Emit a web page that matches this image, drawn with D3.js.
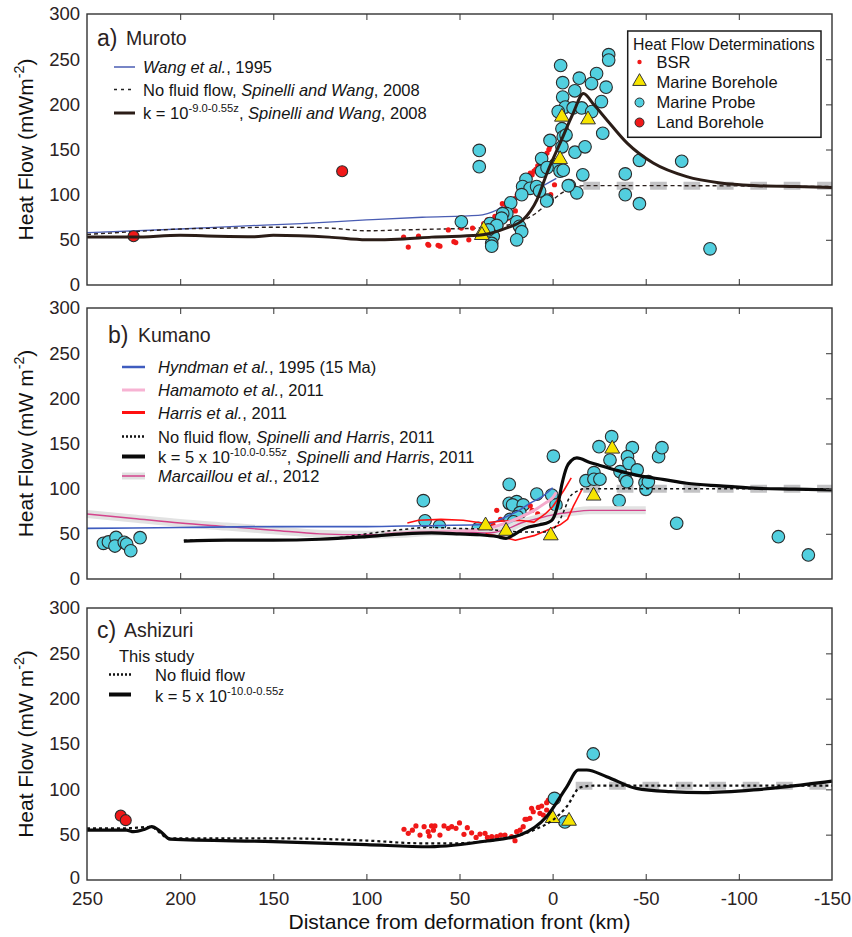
<!DOCTYPE html>
<html>
<head>
<meta charset="utf-8">
<script src="https://cdn.jsdelivr.net/npm/d3@7"></script>
<style>
body{margin:0;background:#fff;}
svg{font-family:"Liberation Sans",Arial,Helvetica,sans-serif;}
</style>
</head>
<body>
<script>

//Data: [distance km, heat flow mW/m2]

// a) Muroto
var murotoWang = [[250,58],[200,62],[170,65],[135,68],[100,72],[70,75],[40,77],[35,79],[30,83],[25,90],[18,96],[12,102],[5,110],[-2,118]];
var murotoNoFlow = [[250,56],[225,59],[200,62],[175,63],[150,64],[120,63],[100,60],[80,61],[60,62],[40,63],[25,66],[18,70],[10,78],[5,86],[0,94],[-5,102],[-10,107],[-17,110],[-50,110],[-150,109]];
var murotoK = [[250,53],[225,53],[200,55],[180,54],[160,53.5],[150,55],[120,53],[100,50],[80,51],[65,53],[40,55],[25,63],[16,72],[8.5,94],[3,124],[-4,157],[-11,190],[-16.5,212],[-22,200],[-29,183],[-40,157],[-54,135],[-72,120],[-90,113],[-110,110],[-130,109],[-150,108]];
var murotoRef = 110;
var murotoBSR = [[80,53],[77.5,42],[72,54],[67,45],[66.5,44],[61.5,44],[60.5,43],[56,61],[53,48],[52,47],[49,63],[43,63],[37,68],[35,72],[33,70],[31,76],[29,80],[27,90],[25,86],[23,88],[22,92],[20,96],[19,100],[17,98],[16,104],[15,112],[14,120],[13,118],[12,124],[11,122],[10,126],[9,128],[8,132],[7,136],[6,130],[5,138],[4,142],[3,146],[2,150],[1.5,153],[0.5,158],[0,164],[-1,111],[1,100],[20,82],[24,74],[28,70],[32,64],[36,58],[40,54],[45,50]];
var murotoProbe = [[39.4,149],[39.4,131],[49,70],[-4.3,243],[-5.4,224],[-14.3,229],[-23.6,234],[-20.9,223],[-28.7,219],[-26.2,203],[-26.9,168],[-30.1,255],[-30.1,249],[-11.9,215],[-5.4,208],[-6.8,197],[-3,192],[-11,196],[-15.6,196],[-21,192],[-5,173],[-5.7,164],[-7.2,166],[1.4,160],[-5,153],[-12,147],[-17.4,153],[5.9,140],[-1.3,133],[-4,126],[-5.7,127],[-16.2,122],[-9,110],[-13,102],[-39,123],[-39,100],[-46.6,90],[-46.6,138],[-69.3,137],[-84.5,40],[5.9,126],[14.3,117],[16.1,109],[12.1,107],[8.6,109],[16.6,100],[2.9,94],[22.5,91],[24.6,79],[26.8,79],[27.4,74],[19.3,70],[17.8,65],[16.6,59],[19.3,50],[33.6,68],[30,66],[31.9,54],[32.7,46],[32.7,43],[34.5,61],[3.2,93],[-8.4,110],[3,130],[7,104]];
var murotoBorehole = [[-5,185],[-19,182],[-4,138],[37,60],[38,54]];
var murotoLand = [[225,54],[113,126]];

// b) Kumano
var kumanoHyndman = [[250,56],[200,57],[150,58],[100,58],[70,59],[40,60],[30,64],[25,69],[18,76],[12,84],[5,92],[0,101]];
var kumanoHamamoto = [[90,50],[70,52],[50,53],[35,56],[25,62],[18,68],[10,76],[4,84],[0,90],[-2,96]];
var kumanoHarrisUpper = [[78,62],[72,65],[60,66],[48,65],[38,62],[28,64],[18,65],[10,63],[4,72],[0,80],[-6,98],[-10,112]];
var kumanoHarrisLower = [[36,50],[28,47],[20,43],[10,48],[3,54],[-4,60],[-8,66],[-11,80],[-13,88],[-16,100]];
var kumanoNoFlow = [[198,43],[175,43],[150,43],[125,44],[118,45],[100,50],[80,55],[66,57],[50,56],[35,55],[25,53],[15,52],[5,52],[0,55],[-3,62],[-6,75],[-9,90],[-13,97],[-17,100],[-50,100],[-150,100]];
var kumanoK = [[198,42],[175,43],[150,43],[125,44],[100,47],[80,50],[65,51],[50,50],[39,49],[30,47],[25,45],[20,50],[15,56],[7,60],[2,63],[0,66],[-3,84],[-5,105],[-7.6,124],[-10,131],[-13,134],[-20,129],[-25,126],[-35,120],[-45,115],[-60,110],[-72,106],[-90,103],[-108,100.5],[-130,99.5],[-150,98.5]];
var kumanoMarcaillou = [[250,72],[225,67],[200,62],[175,58],[150,54],[125,50],[100,49],[80,50],[65,52],[50,52],[35,51],[25,55],[17,62],[8,67],[0,71],[-10,74],[-20,76],[-50,76]];
var kumanoRef = 100;
var kumanoBSR = [[30,76],[28,66],[12,81],[11,76],[32,60],[8,72]];
var kumanoProbe = [[241.2,39.5],[238.5,41],[234.4,46],[235,36.5],[230,40.6],[228.7,38.7],[226.5,31.3],[221.5,45.7],[69.4,86.7],[68.5,64.5],[60.8,58.7],[39.9,56],[23.3,104.8],[23.3,83.8],[19.3,85.6],[21.5,82],[15.8,82],[17.6,73.4],[22.9,66],[19,69],[21,63.4],[8.5,94],[0.5,93],[-0.4,136],[-1.8,82],[-17.9,108.8],[-22.2,117.7],[-22.2,110.4],[-25.4,110.4],[-24.9,146.5],[-31.7,157.6],[-30.8,131.7],[-36.2,118.8],[-38.9,111.5],[-39.8,107.7],[-42.8,145.4],[-40.2,135.4],[-41,128],[-45.4,120.7],[-49.6,106.6],[-50.1,99.3],[-51.4,107.7],[-35.7,86.7],[-56.9,135.4],[-58.7,145.4],[-66.6,61.7],[-121.2,46.8],[-137.3,26.6]];
var kumanoBorehole = [[36,58],[25,52],[1,47],[-22,91],[-32,143]];

// c) Ashizuri
var ashizuriNoFlow = [[250,57],[230,57],[216,58.5],[206,46],[180,46],[150,46],[100,43.5],[71,40.5],[53,40.5],[35,43],[17.5,49.6],[8,57],[0,66],[-7.6,81],[-14.7,102],[-21.8,104],[-150,104]];
var ashizuriK = [[250,55],[228.8,55],[225,53.3],[219,56],[215.3,58.8],[210.8,54],[205.4,45],[150,42.3],[100,39],[66,36.7],[35.4,43],[17.5,49.6],[3.2,70],[-7.6,102.8],[-13.8,121.3],[-18.3,121.3],[-29,114],[-45,101],[-63,97.4],[-81,96.3],[-108,99.3],[-126,103],[-150,109]];
var ashizuriRef = 104;
var ashizuriBSR = [[79.8,56],[77.5,51.5],[75.3,55],[73.4,59.6],[71.2,49.6],[69,58.8],[66.8,53.3],[65,59.6],[63.2,59.6],[66.2,48.5],[64,55],[60.5,49.6],[58.3,59.6],[56,57],[54.2,58.8],[51.9,57],[50,63],[47.6,50.4],[45.8,57.7],[43.5,52],[41.1,47],[39,50.7],[36.3,51.5],[35,47],[32.7,47.8],[30,47.8],[27.9,49.6],[25.6,49.6],[22,47.8],[20.2,43.4],[19.3,53.3],[17.5,55],[15.8,58.8],[14.8,67],[14,67],[12.2,68],[11.3,79],[10.4,75.3],[7.7,80],[5.9,81.6],[6.8,73.5],[5,71.7],[3.2,77.2],[3.2,85.3],[2.3,88.2]];
var ashizuriProbe = [[-21.8,139],[-1,90],[-6.6,64]];
var ashizuriBorehole = [[0,67],[-8.8,64]];
var ashizuriLand = [[231.9,71],[229.2,66]];

var yTicks = [0,50,100,150,200,250,300];
var xTicks = [250,200,150,100,50,0,-50,-100,-150];

//Colors
var PROBE = "#52cfdf", TRI = "#f6e400", RED = "#f01818", TXT = "#2a2222";
var LEG = 16.5;

var svg = d3.select("body").append("svg").attr("width",852).attr("height",937);

var x = d3.scaleLinear().domain([250,-150]).range([87,832]);

function makeY(top,bottom){
  return d3.scaleLinear().domain([0,300]).range([bottom,top]);
}

function drawLine(g,y,data,stroke,width,dash,curve){
  var line = d3.line().x(function(d){return x(d[0]);}).y(function(d){return y(d[1]);})
    .curve(curve || d3.curveMonotoneX);
  var p = g.append("path").datum(data).attr("d",line).attr("fill","none")
    .attr("stroke",stroke).attr("stroke-width",width)
    .attr("stroke-linejoin","round").attr("stroke-linecap","butt");
  if(dash) p.attr("stroke-dasharray",dash);
  return p;
}

function drawRef(g,y,val,startX){
  g.append("line").attr("x1",startX).attr("x2",x(-150))
    .attr("y1",y(val)).attr("y2",y(val))
    .attr("stroke","#c3c3c5").attr("stroke-width",8).attr("stroke-dasharray","16.7,16.7");
}

function drawBSR(g,y,data){
  g.selectAll(null).data(data).enter().append("circle")
    .attr("cx",function(d){return x(d[0]);}).attr("cy",function(d){return y(d[1]);})
    .attr("r",2.6).attr("fill",RED);
}

function drawCircles(g,y,data,fill,r){
  g.selectAll(null).data(data).enter().append("circle")
    .attr("cx",function(d){return x(d[0]);}).attr("cy",function(d){return y(d[1]);})
    .attr("r",r).attr("fill",fill).attr("stroke","#2b2b2b").attr("stroke-width",1.1);
}

var tri = d3.symbol().type(d3.symbolTriangle).size(95);
function drawTriangles(g,y,data){
  g.selectAll(null).data(data).enter().append("path")
    .attr("d",tri)
    .attr("transform",function(d){return "translate("+x(d[0])+","+(y(d[1])-1)+")";})
    .attr("fill",TRI).attr("stroke","#333").attr("stroke-width",1);
}

function richText(g,px,py,parts,size,color){
  var t = g.append("text").attr("x",px).attr("y",py).attr("font-size",size)
    .attr("fill",color || "#151515");
  var raised = false;
  parts.forEach(function(p){
    var s = t.append("tspan").text(p.t);
    if(p.i) s.attr("font-style","italic");
    if(p.sup){ s.attr("font-size",size*0.68).attr("dy",-size*0.42); raised = true; }
    else if(raised){ s.attr("dy",size*0.42); raised = false; }
  });
  return t;
}

function drawFrame(y,top,bottom,showX,yTitle){
  var g = svg.append("g");
  // top ticks (pointing in)
  g.append("g").attr("transform","translate(0,"+top+")")
    .call(d3.axisBottom(x).tickValues(xTicks.slice(1,-1)).tickSize(6).tickFormat(""))
    .call(function(s){s.select(".domain").remove(); s.selectAll("line").attr("stroke","#555").attr("stroke-width",1.2);});
  // bottom ticks
  g.append("g").attr("transform","translate(0,"+bottom+")")
    .call(d3.axisTop(x).tickValues(xTicks.slice(1,-1)).tickSize(6).tickFormat(""))
    .call(function(s){s.select(".domain").remove(); s.selectAll("line").attr("stroke","#555").attr("stroke-width",1.2);});
  // right ticks
  g.append("g").attr("transform","translate("+x(-150)+",0)")
    .call(d3.axisLeft(y).tickValues(yTicks.slice(1,-1)).tickSize(6).tickFormat(""))
    .call(function(s){s.select(".domain").remove(); s.selectAll("line").attr("stroke","#555").attr("stroke-width",1.2);});
  // left labels
  g.append("g").attr("transform","translate("+x(250)+",0)")
    .call(d3.axisLeft(y).tickValues(yTicks).tickSize(0).tickPadding(7))
    .call(function(s){
      s.select(".domain").remove();
      s.selectAll("text").attr("font-size",18.5).attr("fill",TXT).attr("font-family",null);
      // lowest label sits just above the x tick labels
      if(showX) s.selectAll("text").filter(function(d){return d===0;}).attr("y",-2);
    });
  if(showX){
    g.append("g").attr("transform","translate(0,"+bottom+")")
      .call(d3.axisBottom(x).tickValues(xTicks).tickSize(0).tickPadding(12).tickFormat(function(d){return String(d);}))
      .call(function(s){s.select(".domain").remove(); s.selectAll("text").attr("font-size",18.5).attr("fill",TXT).attr("font-family",null);});
  }
  g.append("rect").attr("x",x(250)).attr("y",top).attr("width",x(-150)-x(250)).attr("height",bottom-top)
    .attr("fill","none").attr("stroke","#333").attr("stroke-width",1.4);
  var yt = g.append("g").attr("transform","translate(33,"+((top+bottom)/2)+") rotate(-90)");
  richText(yt,0,0,yTitle,21,"#111").attr("text-anchor","middle");
}

//Panel a) Muroto
(function(){
  var top = 14, bottom = 285, y = makeY(top,bottom);
  var g = svg.append("g");
  drawRef(g,y,murotoRef,583.3);
  drawLine(g,y,murotoWang,"#4a5db3",1.3);
  drawLine(g,y,murotoNoFlow,"#2a1f1c",1.4,"4,3");
  drawBSR(g,y,murotoBSR);
  drawCircles(g,y,murotoProbe,PROBE,6.3);
  drawTriangles(g,y,murotoBorehole);
  drawCircles(g,y,murotoLand,RED,5.5);
  drawLine(g,y,murotoK,"#2b1d17",3);

  richText(g,97,46,[{t:"a)"}],23,TXT);
  richText(g,126,45,[{t:"Muroto"}],19.5,TXT);

  var lx1 = 114, lx2 = 135, tx = 143;
  g.append("line").attr("x1",lx1).attr("x2",lx2).attr("y1",67).attr("y2",67).attr("stroke","#4a5db3").attr("stroke-width",1.5);
  richText(g,tx,73,[{t:"Wang et al.",i:true},{t:", 1995"}],LEG);
  g.append("line").attr("x1",lx1).attr("x2",lx2).attr("y1",89.5).attr("y2",89.5).attr("stroke","#222").attr("stroke-width",1.5).attr("stroke-dasharray","3,4");
  richText(g,tx,95.5,[{t:"No fluid flow, "},{t:"Spinelli and Wang",i:true},{t:", 2008"}],LEG);
  g.append("line").attr("x1",lx1).attr("x2",lx2).attr("y1",113).attr("y2",113).attr("stroke","#2b1d17").attr("stroke-width",3);
  richText(g,tx,119,[{t:"k = 10"},{t:"-9.0-0.55z",sup:true},{t:", "},{t:"Spinelli and Wang",i:true},{t:", 2008"}],LEG);

  // symbol legend
  var lg = g.append("g");
  lg.append("rect").attr("x",627.7).attr("y",31).attr("width",193.3).attr("height",106.3)
    .attr("fill","#fff").attr("stroke","#1a1a1a").attr("stroke-width",1.5);
  richText(lg,633,50,[{t:"Heat Flow Determinations"}],15.8);
  lg.append("circle").attr("cx",639.5).attr("cy",62).attr("r",2.2).attr("fill",RED);
  richText(lg,656.5,68,[{t:"BSR"}],LEG);
  lg.append("path").attr("d",d3.symbol().type(d3.symbolTriangle).size(80)).attr("transform","translate(639.5,81.5)")
    .attr("fill",TRI).attr("stroke","#333").attr("stroke-width",1);
  richText(lg,656.5,88,[{t:"Marine Borehole"}],LEG);
  lg.append("circle").attr("cx",639.5).attr("cy",102.5).attr("r",4.5).attr("fill",PROBE).attr("stroke","#2b2b2b");
  richText(lg,656.5,108,[{t:"Marine Probe"}],LEG);
  lg.append("circle").attr("cx",639.5).attr("cy",122.5).attr("r",4.5).attr("fill",RED).attr("stroke","#2b2b2b");
  richText(lg,656.5,128,[{t:"Land Borehole"}],LEG);

  drawFrame(y,top,bottom,false,[{t:"Heat Flow (mWm"},{t:"-2",sup:true},{t:")"}]);
})();

//Panel b) Kumano
(function(){
  var top = 308, bottom = 579, y = makeY(top,bottom);
  var g = svg.append("g");
  drawRef(g,y,kumanoRef,583.3);
  drawCircles(g,y,kumanoProbe,PROBE,6.3);
  drawBSR(g,y,kumanoBSR);
  drawLine(g,y,kumanoMarcaillou,"#e2e2e2",8);
  drawLine(g,y,kumanoMarcaillou,"#d4438c",1.4);
  drawLine(g,y,kumanoHyndman,"#3f5cbf",1.6);
  drawLine(g,y,kumanoHarrisUpper,"#ff1010",1.6,null,d3.curveLinear);
  drawLine(g,y,kumanoHarrisLower,"#ff1010",1.6,null,d3.curveLinear);
  drawLine(g,y,kumanoHamamoto,"#f5a9cb",3);
  drawLine(g,y,kumanoNoFlow,"#111",1.5,"3,3");
  drawTriangles(g,y,kumanoBorehole);
  drawLine(g,y,kumanoK,"#0a0a0a",3.2);

  richText(g,108,343,[{t:"b)"}],23,TXT);
  richText(g,138,342,[{t:"Kumano"}],19.5,TXT);

  var lx1 = 122, lx2 = 145, tx = 158, fs = LEG;
  var rows = [367,390,412.5,436.5,456.5,476];
  g.append("line").attr("x1",lx1).attr("x2",lx2).attr("y1",rows[0]).attr("y2",rows[0]).attr("stroke","#3f5cbf").attr("stroke-width",2.5);
  richText(g,tx,rows[0]+6,[{t:"Hyndman et al.",i:true},{t:", 1995 (15 Ma)"}],fs);
  g.append("line").attr("x1",lx1).attr("x2",lx2).attr("y1",rows[1]).attr("y2",rows[1]).attr("stroke","#f7b3d3").attr("stroke-width",3);
  richText(g,tx,rows[1]+6,[{t:"Hamamoto et al.",i:true},{t:", 2011"}],fs);
  g.append("line").attr("x1",lx1).attr("x2",lx2).attr("y1",rows[2]).attr("y2",rows[2]).attr("stroke","#ff1010").attr("stroke-width",3);
  richText(g,tx,rows[2]+6,[{t:"Harris et al.",i:true},{t:", 2011"}],fs);
  g.append("line").attr("x1",lx1).attr("x2",lx2).attr("y1",rows[3]).attr("y2",rows[3]).attr("stroke","#111").attr("stroke-width",2.5).attr("stroke-dasharray","2,2");
  richText(g,tx,rows[3]+6,[{t:"No fluid flow, "},{t:"Spinelli and Harris",i:true},{t:", 2011"}],fs);
  g.append("line").attr("x1",lx1).attr("x2",lx2).attr("y1",rows[4]).attr("y2",rows[4]).attr("stroke","#0a0a0a").attr("stroke-width",4);
  richText(g,tx,rows[4]+6,[{t:"k = 5 x 10"},{t:"-10.0-0.55z",sup:true},{t:", "},{t:"Spinelli and Harris",i:true},{t:", 2011"}],fs);
  g.append("line").attr("x1",lx1).attr("x2",lx2).attr("y1",rows[5]).attr("y2",rows[5]).attr("stroke","#e0e0e0").attr("stroke-width",7);
  g.append("line").attr("x1",lx1).attr("x2",lx2).attr("y1",rows[5]).attr("y2",rows[5]).attr("stroke","#d4438c").attr("stroke-width",1.5);
  richText(g,tx,rows[5]+6,[{t:"Marcaillou et al.",i:true},{t:", 2012"}],fs);

  drawFrame(y,top,bottom,false,[{t:"Heat Flow (mW m"},{t:"-2",sup:true},{t:")"}]);
})();

//Panel c) Ashizuri
(function(){
  var top = 608, bottom = 880, y = makeY(top,bottom);
  var g = svg.append("g");
  drawRef(g,y,ashizuriRef,575.7);
  drawBSR(g,y,ashizuriBSR);
  drawCircles(g,y,ashizuriProbe,PROBE,6.3);
  drawTriangles(g,y,ashizuriBorehole);
  drawCircles(g,y,ashizuriLand,RED,5.5);
  drawLine(g,y,ashizuriNoFlow,"#111",2.2,"3,3");
  drawLine(g,y,ashizuriK,"#0a0a0a",3.2);

  richText(g,97,638,[{t:"c)"}],23,TXT);
  richText(g,124,637,[{t:"Ashizuri"}],19.5,TXT);

  richText(g,119,662,[{t:"This study"}],LEG);
  g.append("line").attr("x1",109).attr("x2",131).attr("y1",674.5).attr("y2",674.5).attr("stroke","#111").attr("stroke-width",2.5).attr("stroke-dasharray","2,2");
  richText(g,155,680.5,[{t:"No fluid flow"}],LEG);
  g.append("line").attr("x1",109).attr("x2",131).attr("y1",694.5).attr("y2",694.5).attr("stroke","#0a0a0a").attr("stroke-width",4);
  richText(g,155,701.5,[{t:"k = 5 x 10"},{t:"-10.0-0.55z",sup:true}],LEG);

  drawFrame(y,top,bottom,true,[{t:"Heat Flow (mW m"},{t:"-2",sup:true},{t:")"}]);

  svg.append("text").attr("x",(x(250)+x(-150))/2).attr("y",929).attr("text-anchor","middle")
    .attr("font-size",21).attr("fill","#111").text("Distance from deformation front (km)");
})();

</script>
</body>
</html>
